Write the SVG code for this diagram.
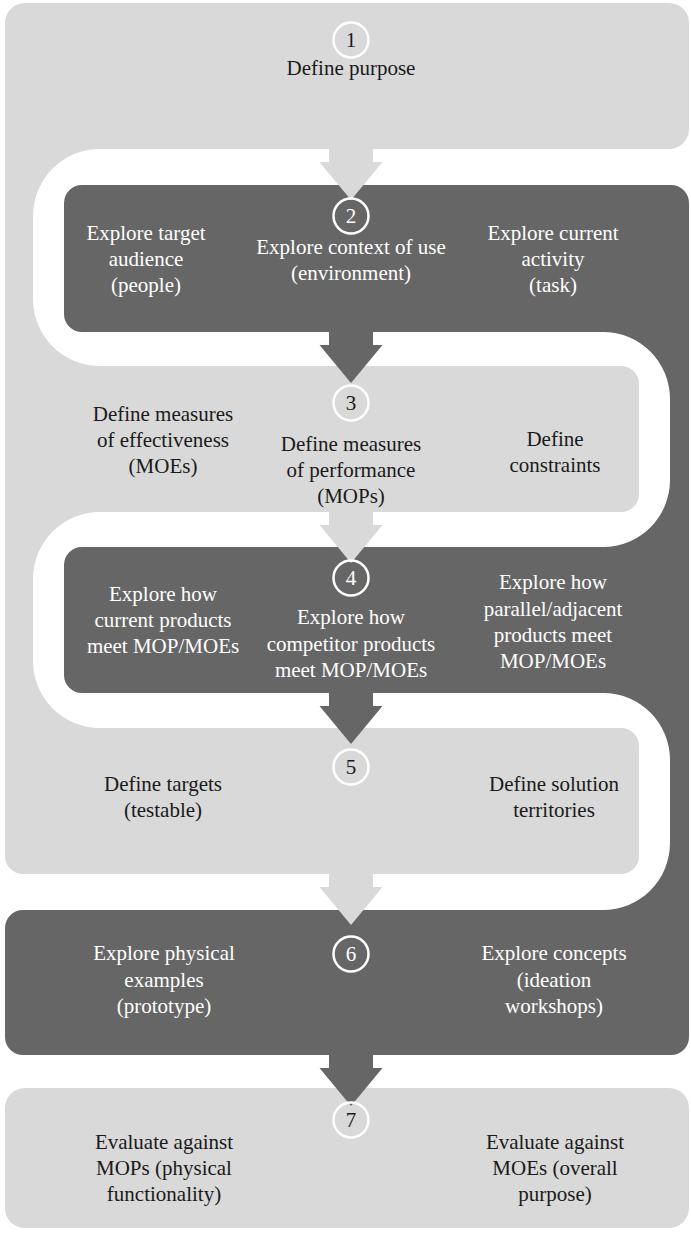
<svg xmlns="http://www.w3.org/2000/svg" width="691" height="1233" viewBox="0 0 691 1233">
  <style>
    .light { fill: #d9d9d9; }
    .dark { fill: #666666; }
    .step { fill: none; stroke: #ffffff; stroke-width: 2.5; }
    text { font-family: "Liberation Serif", "Times New Roman", serif; font-size: 21px; text-anchor: middle; }
    .onlight { fill: #1a1a1a; }
    .ondark { fill: #ffffff; }
  </style>
  <defs>
    <!-- down arrow: shaft 44 wide, head 63 wide; origin at the source band's lower edge -->
    <path id="arrow" d="M -22,0 H 22 V 13 H 31.5 L 0,51 L -31.5,13 H -22 Z"/>
  </defs>

  <rect x="0" y="0" width="691" height="1233" fill="#ffffff"/>

  <!-- light ribbon: stages 1, 3 and 5 joined along the left side -->
  <g id="band-light">
    <path class="light" d="M 25,3 H 669 A 20 20 0 0 1 689 23 V 129 A 20 20 0 0 1 669 149 H 100 A 67 67 0 0 0 33 216 V 299 A 67 67 0 0 0 100 366 H 621 A 18 18 0 0 1 639 384 V 494 A 18 18 0 0 1 621 512 H 100 A 67 67 0 0 0 33 579 V 661 A 67 67 0 0 0 100 728 H 621 A 18 18 0 0 1 639 746 V 856 A 18 18 0 0 1 621 874 H 23 A 18 18 0 0 1 5 856 V 23 A 20 20 0 0 1 25 3 Z"/>
  </g>

  <!-- dark ribbon: stages 2, 4 and 6 joined along the right side -->
  <g id="band-dark">
    <path class="dark" d="M 82,185 H 671 A 18 18 0 0 1 689 203 V 1037 A 18 18 0 0 1 671 1055 H 23 A 18 18 0 0 1 5 1037 V 928 A 18 18 0 0 1 23 910 H 603 A 67 67 0 0 0 670 843 V 760 A 67 67 0 0 0 603 693 H 82 A 18 18 0 0 1 64 675 V 565 A 18 18 0 0 1 82 547 H 603 A 67 67 0 0 0 670 480 V 399 A 67 67 0 0 0 603 332 H 82 A 18 18 0 0 1 64 314 V 203 A 18 18 0 0 1 82 185 Z"/>
  </g>

  <!-- stage 7 -->
  <g id="band-final">
    <rect class="light" x="5" y="1088" width="684" height="140" rx="20" ry="20"/>
  </g>

  <!-- flow arrows between stages -->
  <g id="connectors">
    <use href="#arrow" class="light" x="351" y="149"/>
    <use href="#arrow" class="dark" x="351" y="332"/>
    <use href="#arrow" class="light" x="351" y="512"/>
    <use href="#arrow" class="dark" x="351" y="693"/>
    <use href="#arrow" class="light" x="351" y="874"/>
    <use href="#arrow" class="dark" x="351" y="1055"/>
  </g>

  <g id="step1">
    <circle class="step" cx="351" cy="40" r="17.5"/>
    <text class="onlight" x="351" y="47">1</text>
    <text class="onlight" x="351" y="75">Define purpose</text>
  </g>

  <g id="step2">
    <circle class="step" cx="351" cy="216" r="17.5"/>
    <text class="ondark" x="351" y="223">2</text>
    <text class="ondark" x="146" y="240">Explore target</text>
    <text class="ondark" x="146" y="266">audience</text>
    <text class="ondark" x="146" y="292">(people)</text>
    <text class="ondark" x="351" y="254">Explore context of use</text>
    <text class="ondark" x="351" y="280">(environment)</text>
    <text class="ondark" x="553" y="240">Explore current</text>
    <text class="ondark" x="553" y="266">activity</text>
    <text class="ondark" x="553" y="292">(task)</text>
  </g>

  <g id="step3">
    <circle class="step" cx="351" cy="403" r="17.5"/>
    <text class="onlight" x="351" y="410">3</text>
    <text class="onlight" x="163" y="421">Define measures</text>
    <text class="onlight" x="163" y="447">of effectiveness</text>
    <text class="onlight" x="163" y="473">(MOEs)</text>
    <text class="onlight" x="351" y="451">Define measures</text>
    <text class="onlight" x="351" y="477">of performance</text>
    <text class="onlight" x="351" y="503">(MOPs)</text>
    <text class="onlight" x="555" y="446">Define</text>
    <text class="onlight" x="555" y="472">constraints</text>
  </g>

  <g id="step4">
    <circle class="step" cx="351" cy="578" r="17.5"/>
    <text class="ondark" x="351" y="585">4</text>
    <text class="ondark" x="163" y="601">Explore how</text>
    <text class="ondark" x="163" y="627">current products</text>
    <text class="ondark" x="163" y="653">meet MOP/MOEs</text>
    <text class="ondark" x="351" y="624">Explore how</text>
    <text class="ondark" x="351" y="651">competitor products</text>
    <text class="ondark" x="351" y="677">meet MOP/MOEs</text>
    <text class="ondark" x="553" y="589">Explore how</text>
    <text class="ondark" x="553" y="616">parallel/adjacent</text>
    <text class="ondark" x="553" y="642">products meet</text>
    <text class="ondark" x="553" y="668">MOP/MOEs</text>
  </g>

  <g id="step5">
    <circle class="step" cx="351" cy="767" r="17.5"/>
    <text class="onlight" x="351" y="774">5</text>
    <text class="onlight" x="163" y="791">Define targets</text>
    <text class="onlight" x="163" y="817">(testable)</text>
    <text class="onlight" x="554" y="791">Define solution</text>
    <text class="onlight" x="554" y="817">territories</text>
  </g>

  <g id="step6">
    <circle class="step" cx="351" cy="954" r="17.5"/>
    <text class="ondark" x="351" y="961">6</text>
    <text class="ondark" x="164" y="960">Explore physical</text>
    <text class="ondark" x="164" y="987">examples</text>
    <text class="ondark" x="164" y="1013">(prototype)</text>
    <text class="ondark" x="554" y="960">Explore concepts</text>
    <text class="ondark" x="554" y="987">(ideation</text>
    <text class="ondark" x="554" y="1013">workshops)</text>
  </g>

  <g id="step7">
    <circle class="step" cx="351" cy="1120" r="17.5"/>
    <text class="onlight" x="351" y="1127">7</text>
    <text class="onlight" x="164" y="1149">Evaluate against</text>
    <text class="onlight" x="164" y="1175">MOPs (physical</text>
    <text class="onlight" x="164" y="1201">functionality)</text>
    <text class="onlight" x="555" y="1149">Evaluate against</text>
    <text class="onlight" x="555" y="1175">MOEs (overall</text>
    <text class="onlight" x="555" y="1201">purpose)</text>
  </g>
</svg>
